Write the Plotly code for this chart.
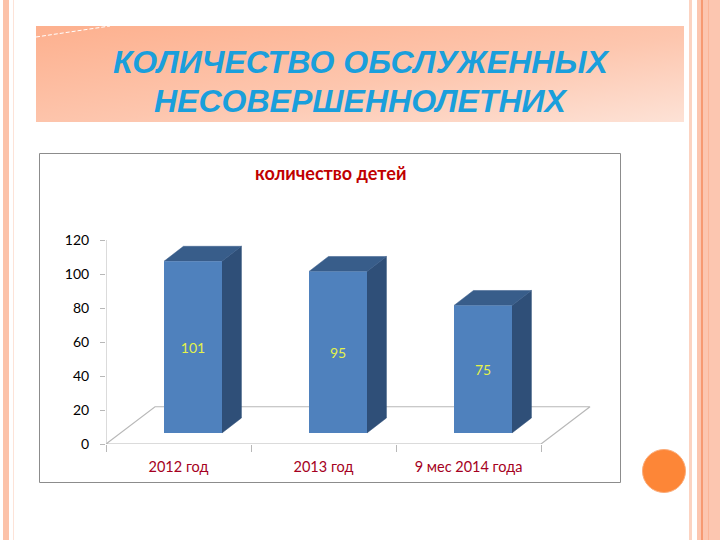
import base64
import plotly.graph_objects as go

# Data
categories = ["2012 год", "2013 год", "9 мес 2014 года"]
values = [101, 95, 75]
y_ticks = [0, 20, 40, 60, 80, 100, 120]

W, H = 720, 540
FONT = "Lato, Carlito, sans-serif"
TITLE_FONT = dict(family="Liberation Sans, Arial, sans-serif", size=32, color="#1a9fdc",
                  weight="bold", style="italic")

# Fake 3D geometry, in axis units (145 px per category, 1.7 px per y unit)
BAR_W = 0.4
BAR_SHIFT = 0.1
BAR_BASE = 6.5
SIDE_DX = 0.134
SIDE_DY = 8.8
FLOOR_DX = 0.338
FLOOR_DY = 21.9

FRONT = "#4f81bd"
SIDE = "#2f4f78"
TOP = "#385d8a"
GRID = "#b8b8b8"

fig = go.Figure()

# Back wall edge and floor of the chart, behind the bars
fig.add_trace(go.Scatter(
    x=[-0.5, -0.5],
    y=[y_ticks[-1], y_ticks[0]],
    mode="lines", line=dict(color=GRID, width=1),
    cliponaxis=False, zorder=-1, hoverinfo="skip",
))
fig.add_trace(go.Scatter(
    x=[-0.5, -0.5 + FLOOR_DX, 2.5 + FLOOR_DX, 2.5, -0.5],
    y=[0, FLOOR_DY, FLOOR_DY, 0, 0],
    mode="lines", line=dict(color=GRID, width=1.2),
    cliponaxis=False, zorder=-1, hoverinfo="skip",
))

# Side and top faces of every bar
for i, v in enumerate(values):
    left = i + BAR_SHIFT - BAR_W / 2
    right = i + BAR_SHIFT + BAR_W / 2
    top = BAR_BASE + v
    fig.add_trace(go.Scatter(
        x=[right, right + SIDE_DX, right + SIDE_DX, right, right],
        y=[BAR_BASE, BAR_BASE + SIDE_DY, top + SIDE_DY, top, BAR_BASE],
        mode="lines", fill="toself", fillcolor=SIDE, line=dict(color=SIDE, width=0.5),
        hoverinfo="skip",
    ))
    fig.add_trace(go.Scatter(
        x=[left, left + SIDE_DX, right + SIDE_DX, right, left],
        y=[top, top + SIDE_DY, top + SIDE_DY, top, top],
        mode="lines", fill="toself", fillcolor=TOP, line=dict(color=TOP, width=0.5),
        hoverinfo="skip",
    ))

# Front faces with the value labels
fig.add_trace(go.Bar(
    x=[i + BAR_SHIFT for i in range(len(values))],
    y=values,
    base=BAR_BASE,
    width=BAR_W,
    marker=dict(color=FRONT, line=dict(width=0)),
    text=[str(v) for v in values],
    textposition="inside",
    insidetextanchor="middle",
    textangle=0,
    textfont=dict(family=FONT, size=14, color="#e4f24a"),
    zorder=1,
))

# Gradient of the header band
band_svg = """<svg xmlns='http://www.w3.org/2000/svg' width='648' height='96'>
<defs><linearGradient id='g' x1='0' y1='0' x2='1' y2='1'>
<stop offset='0' stop-color='#fdb08e'/><stop offset='0.55' stop-color='#fdc6ae'/>
<stop offset='1' stop-color='#fde2d6'/></linearGradient></defs>
<rect width='648' height='96' fill='url(#g)'/></svg>"""
band_src = "data:image/svg+xml;base64," + base64.b64encode(band_svg.encode()).decode()


def px_rect(x0, y0, x1, y1, **kw):
    return dict(type="rect", xref="paper", yref="paper", x0=x0 / W, x1=x1 / W,
                y0=1 - y0 / H, y1=1 - y1 / H, **kw)


def stripe(x0, x1, color):
    return px_rect(x0, 0, x1, H, fillcolor=color, line_width=0, layer="below")


shapes = [
    stripe(3, 9, "#fcc2a9"),
    stripe(13, 14, "#fde3d8"),
    stripe(689, 692, "#fcd3c1"),
    stripe(697, 720, "#fcc6b0"),
    stripe(701, 703, "#f79a72"),
    stripe(708, 709, "#fbb597"),
    px_rect(39.5, 153.5, 620.5, 482.5, fillcolor="white",
            line=dict(color="#8c8c8c", width=1), layer="below"),
    dict(type="line", xref="paper", yref="paper", x0=36 / W, x1=110 / W,
         y0=1 - 37 / H, y1=1 - 26 / H, line=dict(color="white", width=1, dash="4px,2px")),
    dict(type="circle", xref="paper", yref="paper", x0=642.5 / W, x1=685.5 / W,
         y0=1 - 449.5 / H, y1=1 - 492.5 / H, fillcolor="#fd8637",
         line=dict(color="#fbab78", width=1)),
]

fig.update_layout(
    width=W, height=H,
    margin=dict(l=0, r=0, t=0, b=0),
    paper_bgcolor="white", plot_bgcolor="rgba(0,0,0,0)",
    showlegend=False,
    shapes=shapes,
    images=[dict(source=band_src, xref="paper", yref="paper", x=36 / W, y=1 - 26 / H,
                 sizex=648 / W, sizey=96 / H, sizing="stretch", layer="below",
                 xanchor="left", yanchor="top")],
    annotations=[
        dict(text="КОЛИЧЕСТВО ОБСЛУЖЕННЫХ", xref="paper", yref="paper",
             x=360.5 / W, y=1 - 61.5 / H, yanchor="middle", showarrow=False, font=TITLE_FONT),
        dict(text="НЕСОВЕРШЕННОЛЕТНИХ", xref="paper", yref="paper",
             x=361 / W, y=1 - 100.5 / H, yanchor="middle", showarrow=False, font=TITLE_FONT),
        dict(text="<b>количество детей</b>", xref="paper", yref="paper",
             x=330 / W, y=1 - 173 / H, yanchor="middle", showarrow=False,
             font=dict(family=FONT, size=18, color="#c00000")),
    ],
    xaxis=dict(
        domain=[106 / W, 599 / W],
        range=[-0.5, 2.9],
        automargin=False,
        tickvals=[0, 1, 2],
        ticktext=categories,
        ticks="",
        showline=False, showgrid=False, zeroline=False,
        tickfont=dict(family=FONT, size=14.5, color="#a50021"),
        ticklabelstandoff=12,
        minor=dict(tickvals=[-0.5, 0.5, 1.5, 2.5], ticks="outside", ticklen=7,
                   tickcolor=GRID, showgrid=False),
    ),
    yaxis=dict(
        domain=[1 - 444 / H, 1 - 240 / H],
        range=[0, 120],
        automargin=False,
        tickvals=y_ticks,
        ticks="outside", ticklen=5, tickcolor=GRID,
        ticklabelstandoff=8,
        showline=False,
        showgrid=False, zeroline=False,
        tickfont=dict(family=FONT, size=14, color="black"),
    ),
)

fig.write_html("out.html", config=dict(displayModeBar=False),
               post_script="document.body.style.margin='0';document.body.style.overflow='hidden';")
